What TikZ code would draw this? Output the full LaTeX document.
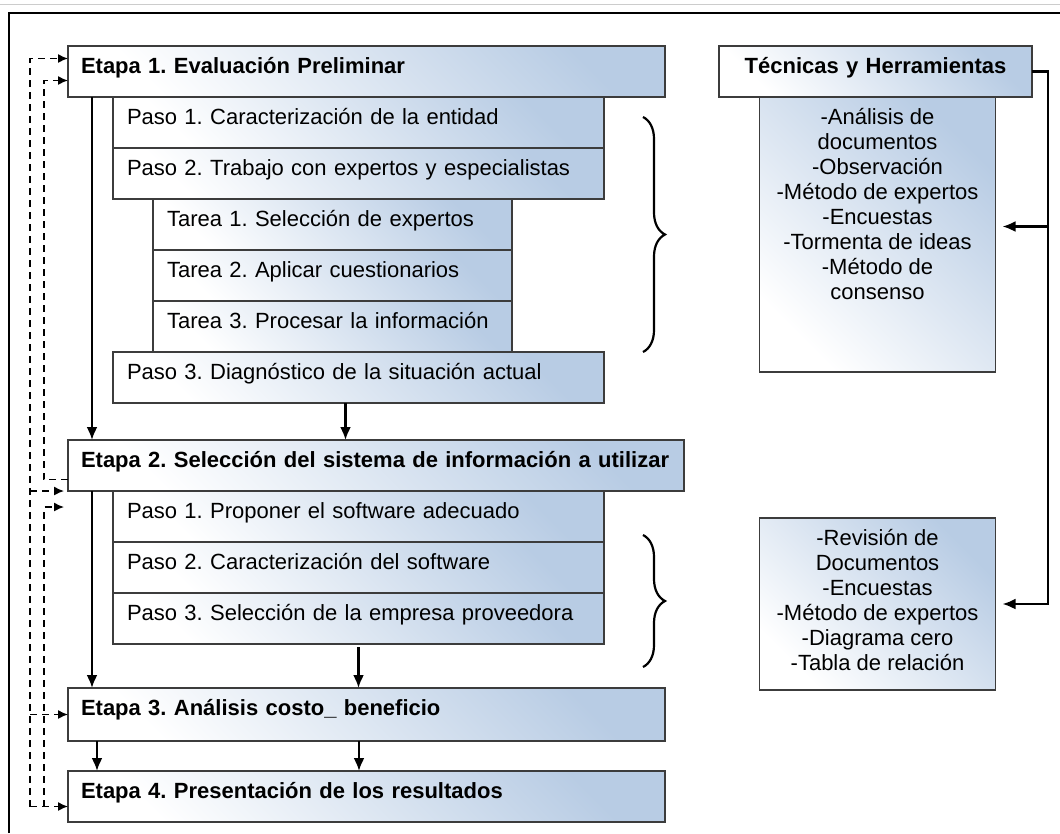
\documentclass[tikz,border=0pt]{standalone}
\usepackage{fontspec}
\setmainfont{Liberation Sans}
\usepackage{tikz}
\usetikzlibrary{positioning}
\usetikzlibrary{arrows.meta,decorations.pathreplacing}
\definecolor{boxblue}{RGB}{184,204,228}
\definecolor{boxline}{RGB}{60,60,60}
\frenchspacing

\begin{document}
\begin{tikzpicture}[x=1pt,y=-1pt,font=\fontsize{22}{25}\selectfont]
\tikzstyle{shaded}=[rectangle, draw=boxline, line width=1.6pt, top color=boxblue, bottom color=white, shading angle=-45, outer sep=0pt]
\tikzstyle{box}=[shaded, inner ysep=0pt, text height=27pt, text depth=24pt, align=left]
\tikzstyle{etapa}=[box, font=\fontsize{22}{25}\selectfont\bfseries, inner xsep=13pt, text width=571pt]
\tikzstyle{paso}=[box, inner xsep=14pt, text width=463pt]
\tikzstyle{tarea}=[box, inner xsep=14pt, text width=331pt]
\tikzstyle{tecnica}=[box, font=\fontsize{22}{25}\selectfont\bfseries, align=center, inner xsep=0pt, text width=313pt]
\tikzstyle{lista}=[shaded, inner sep=0pt, minimum width=236pt]
\tikzstyle{listtext}=[anchor=north, yshift=-11pt, align=center, inner sep=0pt]

\tikzstyle{connect}=[-{Latex[length=13pt,width=11pt]}, line width=2.2pt]
\tikzstyle{dconnect}=[-{Latex[length=10pt,width=9pt]}, line width=1.4pt, dash pattern=on 7pt off 5pt]
\tikzstyle{brace}=[decorate, decoration={brace, amplitude=22pt}, line width=2.2pt]

\useasboundingbox (0,0) rectangle (1060,833);
\draw[black!20, line width=1pt] (0,4) -- (1060,4);
\draw[line width=2.5pt] (9,833) -- (9,13) -- (1060,13);

  \node[etapa, anchor=north west] (e1) at (68,46) {Etapa 1. Evaluación Preliminar};
  \node[paso, below right=0pt and 45pt of e1.south west] (p11) {Paso 1. Caracterización de la entidad};
  \node[paso, below=0pt of p11] (p12) {Paso 2. Trabajo con expertos y especialistas};
  \node[tarea, below right=0pt and 40pt of p12.south west] (t1) {Tarea 1. Selección de expertos};
  \node[tarea, below=0pt of t1] (t2) {Tarea 2. Aplicar cuestionarios};
  \node[tarea, below=0pt of t2] (t3) {Tarea 3. Procesar la información};
  \node[paso, below right=0pt and -40pt of t3.south west] (p13) {Paso 3. Diagnóstico de la situación actual};

  \node[etapa, text width=590pt, below right=37pt and -45pt of p13.south west] (e2) {Etapa 2. Selección del sistema de información a utilizar};
  \node[paso, below right=0pt and 45pt of e2.south west] (q1) {Paso 1. Proponer el software adecuado};
  \node[paso, below=0pt of q1] (q2) {Paso 2. Caracterización del software};
  \node[paso, below=0pt of q2] (q3) {Paso 3. Selección de la empresa proveedora};

  \node[etapa, text depth=26pt, below right=44pt and -45pt of q3.south west] (e3) {Etapa 3. Análisis costo\_ beneficio};
  \node[etapa, below=30pt of e3] (e4) {Etapa 4. Presentación de los resultados};

  \node[tecnica, right=54pt of e1] (tec) {Técnicas y Herramientas};
  \node[lista, minimum height=275pt, below=0pt of tec, xshift=2pt, label={[listtext]north:{-Análisis de\\documentos\\-Observación\\-Método de expertos\\-Encuestas\\-Tormenta de ideas\\-Método de\\consenso}}] (b1) {};
  \node[lista, minimum height=172pt, below=146pt of b1, label={[listtext]north:{-Revisión de\\Documentos\\-Encuestas\\-Método de expertos\\-Diagrama cero\\-Tabla de relación}}] (b2) {};

  \path (e1.south west) ++(24pt,0) coordinate (a1);
  \draw[connect] (a1) -- (a1 |- e2.north);
  \draw[connect] ([xshift=-13pt]p13.south) -- ([xshift=-13pt]p13.south |- e2.north);
  \draw[connect] ([xshift=24pt]e2.south west) -- ([xshift=24pt]e2.south west |- e3.north);
  \draw[connect] ([yshift=-3pt]q3.south) -- (q3.south |- e3.north);
  \draw[connect] ([xshift=29pt]e3.south west) -- ([xshift=29pt]e3.south west |- e4.north);
  \draw[connect] ([xshift=291pt]e3.south west) -- ([xshift=291pt]e3.south west |- e4.north);

  \draw[brace] ([xshift=39pt,yshift=-20pt]p11.north east) -- ([xshift=39pt]p13.north east);
  \draw[brace] ([xshift=39pt,yshift=7pt]q2.north east) -- ([xshift=39pt,yshift=-23pt]q3.south east);

  \coordinate (bus) at ([xshift=16pt]tec.east);
  \draw[connect] (tec.east) -- (bus) |- ([xshift=7pt]b2.east);
  \draw[connect] ([yshift=8pt]bus |- b1.east) -- ([xshift=7pt,yshift=8pt]b1.east);

  \coordinate (lo) at ([xshift=-38pt]e1.west);
  \coordinate (li) at ([xshift=-24pt]e1.west);
  \draw[dconnect] ([yshift=-10pt]e4.west -| lo) |- ([yshift=13pt]e1.west);
  \draw[dconnect] ([yshift=-10pt]e4.west -| lo) -- ([yshift=-10pt]e4.west);
  \draw[dconnect] (e3.west -| lo) -- (e3.west);
  \draw[dconnect] (e2.south west -| lo) -- ([xshift=-4pt]e2.south west);
  \draw[dconnect] ([yshift=-14pt]e2.west) -- ([yshift=-14pt]e2.west -| li) |- ([yshift=-9pt]e1.west);
  \draw[dconnect] ([yshift=-10pt]e4.west -| li) |- ([xshift=-4pt,yshift=-16pt]e2.south west);
\end{tikzpicture}
\end{document}
